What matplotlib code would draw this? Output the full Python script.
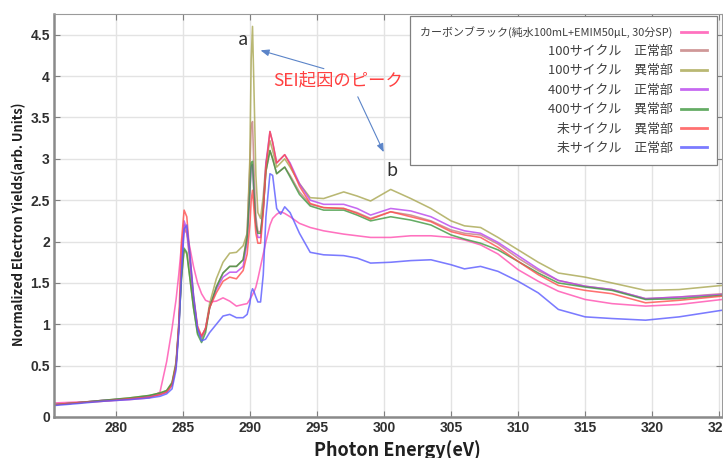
import matplotlib
matplotlib.use('Agg')
import matplotlib.pyplot as plt

plt.rcParams['font.family'] = ['Noto Sans CJK JP', 'DejaVu Sans']

# ---------------- data ----------------
energy = [275.5, 277, 279, 281, 282.5, 283.3, 283.8, 284.2, 284.5, 284.7, 284.9, 285.1, 285.3, 285.5,
          285.8, 286.1, 286.4, 286.7, 287.0, 287.5, 288.0, 288.5, 289.0, 289.5, 289.8, 290.0, 290.1,
          290.2, 290.3, 290.45, 290.6, 290.8, 291.0, 291.2, 291.5, 291.7, 292.0, 292.3, 292.6, 293.0,
          293.7, 294.5, 295.5, 297.0, 298.0, 299.0, 300.5, 302.0, 303.5, 305.0, 306.0, 307.2, 308.5,
          310.0, 311.5, 313.0, 315.0, 317.0, 319.5, 322.0, 325.2]

carbon_black = [0.05, 0.06, 0.07, 0.09, 0.11, 0.18, 0.55, 0.95, 1.30, 1.60, 1.95, 2.15, 2.10, 1.95,
                1.70, 1.50, 1.37, 1.29, 1.27, 1.28, 1.32, 1.28, 1.22, 1.24, 1.25, 1.30, 1.33,
                1.36, 1.39, 1.45, 1.55, 1.70, 1.85, 2.00, 2.20, 2.28, 2.33, 2.36, 2.34, 2.30,
                2.22, 2.17, 2.13, 2.09, 2.07, 2.05, 2.05, 2.07, 2.07, 2.05, 2.02, 1.96, 1.85,
                1.66, 1.52, 1.40, 1.30, 1.25, 1.22, 1.24, 1.30]

cyc100_normal = [0.03, 0.05, 0.08, 0.10, 0.13, 0.16, 0.19, 0.28, 0.52, 0.95, 1.60, 2.20, 2.10, 1.80,
                 1.30, 0.95, 0.85, 0.95, 1.20, 1.45, 1.62, 1.70, 1.70, 1.78, 2.10, 2.90, 3.40,
                 3.45, 2.90, 2.30, 2.12, 2.12, 2.40, 2.85, 3.10, 3.00, 2.82, 2.86, 2.90, 2.80,
                 2.60, 2.45, 2.41, 2.40, 2.35, 2.28, 2.36, 2.32, 2.25, 2.14, 2.10, 2.08, 1.97,
                 1.80, 1.65, 1.53, 1.46, 1.42, 1.31, 1.33, 1.37]

cyc100_abnormal = [0.03, 0.05, 0.08, 0.11, 0.14, 0.17, 0.20, 0.30, 0.55, 1.00, 1.55, 1.90, 1.85, 1.60,
                   1.20, 0.90, 0.82, 0.95, 1.25, 1.55, 1.75, 1.86, 1.87, 1.95, 2.10, 3.00, 4.20,
                   4.60, 3.90, 2.80, 2.35, 2.28, 2.55, 2.95, 3.22, 3.10, 2.90, 2.95, 3.00, 2.90,
                   2.70, 2.53, 2.52, 2.60, 2.55, 2.49, 2.63, 2.52, 2.40, 2.25, 2.19, 2.17, 2.05,
                   1.90, 1.75, 1.62, 1.57, 1.50, 1.41, 1.42, 1.47]

cyc400_normal = [0.03, 0.05, 0.08, 0.10, 0.13, 0.15, 0.18, 0.27, 0.50, 0.95, 1.65, 2.25, 2.15, 1.85,
                 1.30, 0.95, 0.85, 0.95, 1.20, 1.42, 1.57, 1.63, 1.63, 1.70, 2.00, 2.60, 2.90,
                 2.93, 2.60, 2.20, 2.05, 2.05, 2.40, 2.95, 3.33, 3.20, 2.95, 3.00, 3.05, 2.95,
                 2.70, 2.50, 2.45, 2.45, 2.40, 2.32, 2.40, 2.37, 2.30, 2.18, 2.13, 2.10, 1.99,
                 1.83, 1.67, 1.53, 1.46, 1.42, 1.31, 1.33, 1.36]

cyc400_abnormal = [0.03, 0.05, 0.08, 0.11, 0.14, 0.17, 0.20, 0.29, 0.52, 0.95, 1.55, 1.92, 1.87, 1.60,
                   1.20, 0.88, 0.78, 0.90, 1.20, 1.45, 1.62, 1.70, 1.70, 1.78, 2.05, 2.60, 2.95,
                   2.97, 2.60, 2.20, 2.10, 2.10, 2.40, 2.85, 3.10, 3.00, 2.82, 2.86, 2.90, 2.78,
                   2.57, 2.43, 2.38, 2.38, 2.32, 2.25, 2.30, 2.26, 2.20, 2.08, 2.03, 1.98, 1.90,
                   1.76, 1.62, 1.50, 1.45, 1.41, 1.30, 1.31, 1.35]

uncyc_abnormal = [0.03, 0.05, 0.07, 0.10, 0.12, 0.15, 0.18, 0.26, 0.50, 1.00, 2.00, 2.38, 2.30, 1.90,
                  1.35, 0.98, 0.86, 0.95, 1.20, 1.38, 1.52, 1.57, 1.55, 1.65, 1.85, 2.20, 2.50,
                  2.62, 2.40, 2.10, 1.98, 1.98, 2.35, 2.90, 3.33, 3.20, 2.95, 3.00, 3.05, 2.93,
                  2.67, 2.46, 2.41, 2.40, 2.34, 2.27, 2.36, 2.30, 2.24, 2.12, 2.08, 2.05, 1.93,
                  1.76, 1.60, 1.47, 1.41, 1.37, 1.26, 1.29, 1.34]

uncyc_normal = [0.02, 0.04, 0.07, 0.09, 0.11, 0.13, 0.16, 0.22, 0.45, 0.90, 1.60, 2.15, 2.20, 1.90,
                1.35, 0.95, 0.80, 0.82, 0.90, 1.00, 1.10, 1.12, 1.08, 1.08, 1.12, 1.25, 1.38,
                1.43, 1.40, 1.33, 1.27, 1.27, 1.60, 2.30, 2.82, 2.80, 2.40, 2.33, 2.42, 2.35,
                2.10, 1.87, 1.84, 1.83, 1.80, 1.74, 1.75, 1.77, 1.78, 1.72, 1.67, 1.70, 1.64,
                1.52, 1.38, 1.18, 1.09, 1.07, 1.05, 1.09, 1.17]

series = [carbon_black, cyc100_normal, cyc100_abnormal, cyc400_normal,
          cyc400_abnormal, uncyc_abnormal, uncyc_normal]
labels = ['カーボンブラック(純水100mL+EMIM50μL, 30分SP)',
          '100サイクル\u3000正常部', '100サイクル\u3000異常部',
          '400サイクル\u3000正常部', '400サイクル\u3000異常部',
          '未サイクル\u3000異常部', '未サイクル\u3000正常部']
colors = ['#ff4fb0', '#c47f7f', '#a8a650', '#b844ee', '#3f983f', '#ff4d4d', '#5a5aff']

x_ticks = [280, 285, 290, 295, 300, 305, 310, 315, 320, 325]
y_bottom = -0.12
y_ticks = [y_bottom, 0.5, 1, 1.5, 2, 2.5, 3, 3.5, 4, 4.5]
y_tick_labels = ['0', '0.5', '1', '1.5', '2', '2.5', '3', '3.5', '4', '4.5']

# ---------------- figure ----------------
fig = plt.figure(figsize=(7.23, 4.58), dpi=100)
ax = fig.add_axes([54 / 723, 1 - 417 / 458, 668 / 723, 403 / 458])

for ys, lab, col in zip(series, labels, colors):
    ax.plot(energy, ys, color=col, lw=1.15, alpha=0.8, label=lab)

ax.set_xlim(275.4, 325.2)
ax.set_ylim(y_bottom, 4.75)
ax.set_xticks(x_ticks)
ax.set_yticks(y_ticks)
ax.set_yticklabels(y_tick_labels)
ax.grid(True, color='#e3e3e3', lw=1.0)
ax.set_axisbelow(True)

tick_font = dict(family='Liberation Sans', weight='bold', size=10)
for lab in ax.get_xticklabels() + ax.get_yticklabels():
    lab.set_fontproperties(matplotlib.font_manager.FontProperties(**tick_font))
    lab.set_color('#303030')
ax.tick_params(direction='in', length=4, width=0.8, color='#808080', pad=3,
               top=True, right=True)

for s in ['left', 'bottom']:
    ax.spines[s].set_color('#8a8a8a')
    ax.spines[s].set_linewidth(1.8)
for s in ['top', 'right']:
    ax.spines[s].set_color('#9a9a9a')
    ax.spines[s].set_linewidth(0.8)

fig.text(397 / 723, 0.004, 'Photon Energy(eV)', ha='center', va='baseline',
         fontsize=13, fontweight='bold', color='#202020')
fig.text(19 / 723, 1 - 224 / 458, 'Normalized Electron Yields(arb. Units)', rotation=90,
         ha='center', va='center', fontsize=9.3, fontweight='bold', color='#202020')

# annotations
ax.text(289.48, 4.44, 'a', ha='center', va='center', fontsize=13, color='#303030')
ax.text(300.58, 2.85, 'b', ha='center', va='center', fontsize=13, color='#303030')
ax.text(296.57, 3.95, 'SEI起因のピーク', ha='center', va='center', fontsize=12.5, color='#ff4040')
arrow = dict(arrowstyle='-|>,head_length=0.5,head_width=0.2', color='#5b84c8', lw=0.8)
ax.annotate('', xy=(290.6, 4.32), xytext=(295.72, 4.08), arrowprops=arrow)
ax.annotate('', xy=(300.07, 3.05), xytext=(297.96, 3.78), arrowprops=arrow)

leg = ax.legend(loc='upper right', bbox_to_anchor=(0.9925, 0.995), borderaxespad=0,
                markerfirst=False, fontsize=9.3, handlelength=2.0, handletextpad=0.65,
                labelspacing=0.5, borderpad=0.8, fancybox=False, framealpha=1,
                edgecolor='#808080')
leg.get_frame().set_linewidth(0.9)
for t in leg.get_texts():
    t.set_color('#404040')
leg.get_texts()[0].set_fontsize(7.9)
for ln in leg.get_lines():
    ln.set_linewidth(2.0)

fig.savefig('out.png', dpi=100)
